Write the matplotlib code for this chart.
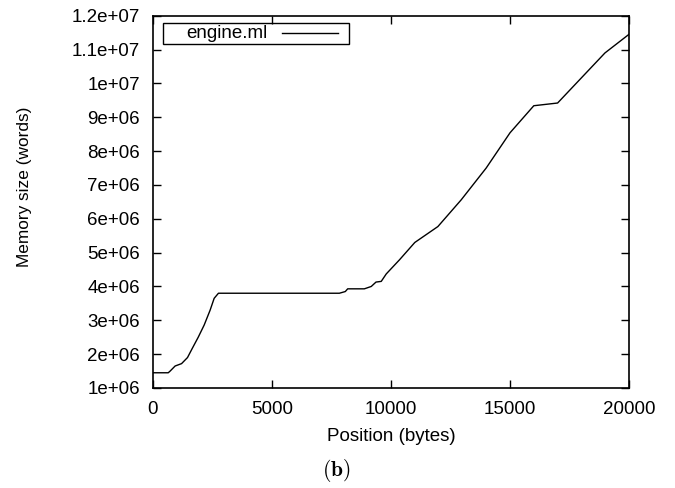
import matplotlib
matplotlib.use("Agg")
import matplotlib.pyplot as plt
from matplotlib.patches import Rectangle
from matplotlib.lines import Line2D

plt.rcParams["font.family"] = ["Liberation Sans", "DejaVu Sans"]
plt.rcParams["mathtext.fontset"] = "cm"

# engine.ml memory size over parse position
position = [0, 640, 720, 930, 1200, 1450, 1650, 1900, 2150, 2400, 2570, 2750,
            7830, 8080, 8180, 8880, 9170, 9370, 9590, 9800, 10360, 11000,
            11970, 12950, 14000, 15000, 16000, 17000, 18990, 20000]
memory = [1.45e6, 1.45e6, 1.5e6, 1.65e6, 1.72e6, 1.9e6, 2.17e6, 2.5e6, 2.86e6,
          3.3e6, 3.65e6, 3.8e6, 3.8e6, 3.85e6, 3.93e6, 3.93e6, 4.0e6, 4.13e6,
          4.15e6, 4.37e6, 4.79e6, 5.3e6, 5.77e6, 6.56e6, 7.5e6, 8.54e6,
          9.34e6, 9.42e6, 1.09e7, 1.145e7]

xticks = [0, 5000, 10000, 15000, 20000]
yticks = [1e6, 2e6, 3e6, 4e6, 5e6, 6e6, 7e6, 8e6, 9e6, 1e7, 1.1e7, 1.2e7]
ytick_labels = ["1e+06", "2e+06", "3e+06", "4e+06", "5e+06", "6e+06",
                "7e+06", "8e+06", "9e+06", "1e+07", "1.1e+07", "1.2e+07"]

W, H = 675, 488
fig = plt.figure(figsize=(W / 100, H / 100), dpi=100)
ax = fig.add_axes([153 / W, 1 - 388 / H, 476 / W, 372.3 / H])

ax.plot(position, memory, color="black", lw=1.0)

ax.set_xlim(0, 20000)
ax.set_ylim(1e6, 1.2e7)
ax.set_xticks(xticks)
ax.set_xticklabels([str(t) for t in xticks])
ax.set_yticks(yticks)
ax.set_yticklabels(ytick_labels)
ax.tick_params(direction="in", length=6, width=1, top=True, right=True,
               labelsize=13.5, pad=9.5, colors="black")
for s in ax.spines.values():
    s.set_linewidth(1.2)

ax.set_xlabel("Position (bytes)", fontsize=13.5, labelpad=7)
# rotated label is shorter in the original
fig.text(25 / W, 1 - 187 / H, "Memory size (words)", rotation=90,
         ha="center", va="center", fontsize=12.4)

# gnuplot-style key: text left, sample line right, tight box
fig.add_artist(Rectangle((163.3 / W, 1 - 44 / H), 186 / W, 20.7 / H,
                         transform=fig.transFigure, fill=False,
                         edgecolor="black", lw=1.0))
fig.text(186 / W, 1 - 33.5 / H, "engine.ml", ha="left", va="center",
         fontsize=13.5)
fig.add_artist(Line2D([281.7 / W, 338.3 / W], [1 - 33.3 / H, 1 - 33.3 / H],
                      transform=fig.transFigure, color="black", lw=1.0))

fig.text(336 / W, 1 - 470 / H, r"$\mathbf{(b)}$", ha="center", va="center",
         fontsize=15.5)

fig.savefig("out.png", dpi=100)
